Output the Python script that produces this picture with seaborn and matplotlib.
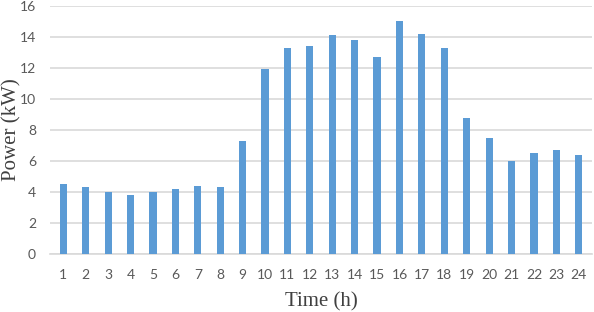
import matplotlib
matplotlib.use("Agg")
import matplotlib.pyplot as plt
import seaborn as sns
import pandas as pd

hours = list(range(1, 25))
power = [4.5, 4.3, 4.0, 3.8, 4.0, 4.2, 4.4, 4.3, 7.3, 11.9, 13.3, 13.4,
         14.1, 13.8, 12.7, 15.0, 14.2, 13.3, 8.8, 7.5, 6.0, 6.5, 6.7, 6.4]
yticks = [0, 2, 4, 6, 8, 10, 12, 14, 16]

df = pd.DataFrame({"hour": hours, "power": power})

sns.set_style("white")
fig = plt.figure(figsize=(5.94, 3.12), dpi=100)
ax = fig.add_axes([0.084, 0.186, 0.913, 0.795])

sns.barplot(data=df, x="hour", y="power", color="#5B9BD5", width=0.32,
            saturation=1, linewidth=0, ax=ax, zorder=3)

ax.set_ylim(0, 16)
ax.set_yticks(yticks)
ax.set_xlim(-0.6, 23.6)
ax.yaxis.grid(True, color="#D9D9D9", linewidth=1.2, zorder=0)
ax.set_axisbelow(True)
for s in ["top", "right", "left"]:
    ax.spines[s].set_visible(False)
ax.spines["bottom"].set_color("#D9D9D9")
ax.spines["bottom"].set_linewidth(1.2)
ax.tick_params(axis="both", length=0, labelcolor="#595959")
ax.tick_params(axis="y", pad=10)
ax.tick_params(axis="x", pad=11)
for lab in ax.get_xticklabels() + ax.get_yticklabels():
    lab.set_family("Lato")
    lab.set_fontsize(10)

ax.set_xlabel("Time (h)", family="Liberation Serif", fontsize=15, color="#404040")
ax.set_ylabel("Power (kW)", family="Liberation Serif", fontsize=15, color="#404040")
ax.xaxis.set_label_coords(0.5, -0.155)
ax.yaxis.set_label_coords(-0.053, 0.5)

fig.savefig("out.png", dpi=100)
